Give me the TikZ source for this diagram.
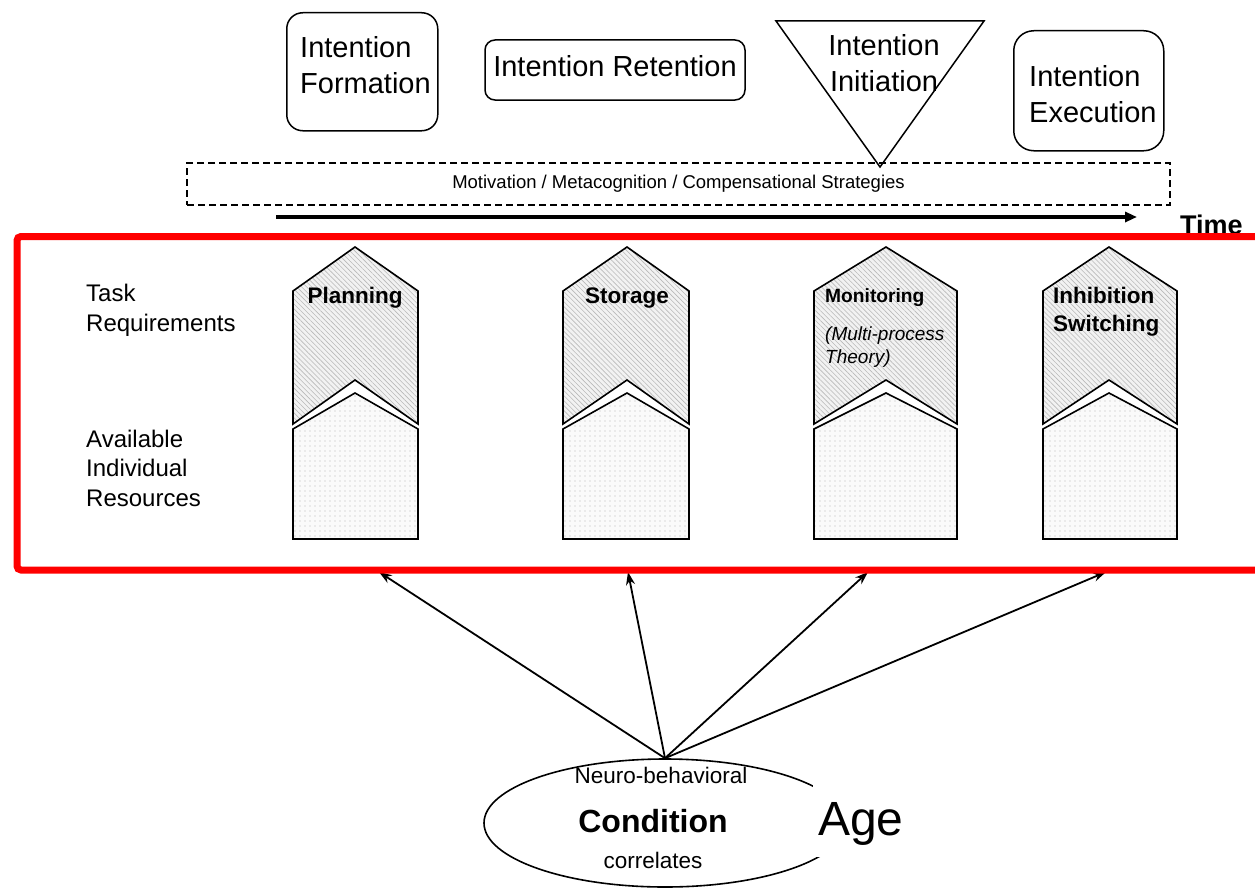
\documentclass[tikz,border=0pt]{standalone}
\usepackage{fontspec}
\setmainfont{Liberation Sans}
\usetikzlibrary{arrows.meta,shapes.geometric,patterns.meta}
\newcommand\fsz[2]{\fontsize{#1}{#2}\selectfont}
\newcommand\pmcol[4]{%
  \path[colupper] (#2,424) -- (#2,291) -- (#3,247) -- (#4,291) -- (#4,424) -- (#3,380) -- cycle;
  \path[collower] (#2,539) -- (#2,429) -- (#3,393) -- (#4,429) -- (#4,539) -- cycle;
  \coordinate (#1) at (#3,539);}
\begin{document}
\begin{tikzpicture}[x=1pt,y=-1pt,
  topbox/.style={draw, line width=1.5pt, rounded corners=16pt, inner sep=0pt},
  toptext/.style={inner sep=0pt, font=\fsz{29}{36}},
  colupper/.style={draw, line width=1.6pt, line join=miter, preaction={fill=gray!10},
    pattern={Lines[angle=-45,distance=3.5pt,line width=0.6pt]}, pattern color=gray!55},
  collower/.style={draw, line width=1.6pt, preaction={fill=gray!4},
    pattern={Dots[distance=5pt,radius=0.55pt]}, pattern color=gray!55},
  lbl/.style={inner sep=0pt, align=left, font=\fsz{24}{29.5}},
  colhead/.style={inner sep=0pt, align=left, font=\bfseries\fsz{22.5}{28}},
  infl/.style={line width=1.8pt, -{Stealth[length=13pt,width=9pt]}},
]
\path[use as bounding box] (0,0) rectangle (1255,891);
\clip (0,0) rectangle (1255,891);

% top phases
\node[topbox, minimum width=151, minimum height=118, anchor=north west] (formbox) at (286,12) {};
\node[toptext, anchor=base west, align=left] (form) at (300,93) {Intention\\Formation};

\node[topbox, rounded corners=10pt, minimum width=260, minimum height=60] (retbox) at (615,70) {};
\node[toptext, anchor=base] (ret) at (615,77) {Intention Retention};

\coordinate (tl) at (776,21);
\coordinate (tr) at (984,21);
\coordinate (tb) at (880,167);
\draw[line width=1.5pt, line join=miter] (tl) -- (tr) -- (tb) -- cycle;
\node[toptext, anchor=base, align=center] (init) at (884,92) {Intention\\Initiation};

\node[topbox, rounded corners=20pt, minimum width=150, minimum height=120, anchor=north west] (execbox) at (1013,30) {};
\node[toptext, anchor=base west, align=left] (exec) at (1029,122) {Intention\\Execution};

% motivation band
\node[draw, line width=1.6pt, dash pattern=on 7pt off 4pt, minimum width=983, minimum height=42,
  inner sep=0pt, font=\fsz{18.5}{22}] (motiv) at (678.5,184) {Motivation / Metacognition / Compensational Strategies};

% time arrow
\coordinate (t0) at (276,217);
\coordinate (t1) at (1137,217);
\draw[line width=3.5pt, -{Triangle[length=12pt,width=10pt]}] (t0) -- (t1);
\node[anchor=base west, inner sep=0pt, font=\bfseries\fsz{27}{32}] (time) at (1180,234) {Time};

% left labels
\node[lbl, anchor=base west] (taskreq) at (86,331) {Task\\Requirements};
\node[lbl, anchor=base west] (avail) at (86,506) {Available\\Individual\\Resources};

% columns
\pmcol{cplan}{293}{355}{418}
\pmcol{cstor}{563}{627}{689}
\pmcol{cmoni}{814}{886}{957}
\pmcol{cinhi}{1043}{1109}{1177}

\node[colhead, anchor=base] (plan) at (355,303) {Planning};
\node[colhead, anchor=base] (stor) at (627,303) {Storage};
\node[anchor=base west, inner sep=0pt, font=\bfseries\fsz{19.2}{23}] (moni) at (825,302) {Monitoring};
\node[anchor=base west, inner sep=0pt, align=left, font=\itshape\fsz{19}{23}] (mpt) at (825,363) {(Multi-process\\Theory)};
\node[colhead, anchor=base west] (inhib) at (1053,331) {Inhibition\\Switching};

% condition ellipse
\node[draw, ellipse, line width=1.6pt, minimum width=362, minimum height=128, inner sep=0pt] (cond) at (665,823) {};
\node[anchor=base, inner sep=0pt, font=\fsz{22.5}{27}] (neuro) at (661,783) {Neuro-behavioral};
\node[anchor=base, inner sep=0pt, font=\bfseries\fsz{32}{38}] (condt) at (653,832) {Condition};
\node[anchor=base, inner sep=0pt, font=\fsz{22.5}{27}] (corr) at (653,868) {correlates};

\coordinate (a1) at (379,572);
\coordinate (a2) at (628,572);
\coordinate (a3) at (868,572);
\coordinate (a4) at (1106,572);
\foreach \t in {a1,a2,a3,a4} \draw[infl] (cond.north) -- (\t);

\node[anchor=base west, fill=white, inner xsep=5pt, inner ysep=0pt, text height=62pt, text depth=22pt,
  font=\fsz{48}{56}] (age) at (813,835) {Age};

% red highlight frame
\node[draw=red, line width=7pt, rounded corners=4pt, minimum width=1262, minimum height=333.5,
  anchor=north west, inner sep=0pt] (frame) at (13.5,233) {};
\end{tikzpicture}
\end{document}
